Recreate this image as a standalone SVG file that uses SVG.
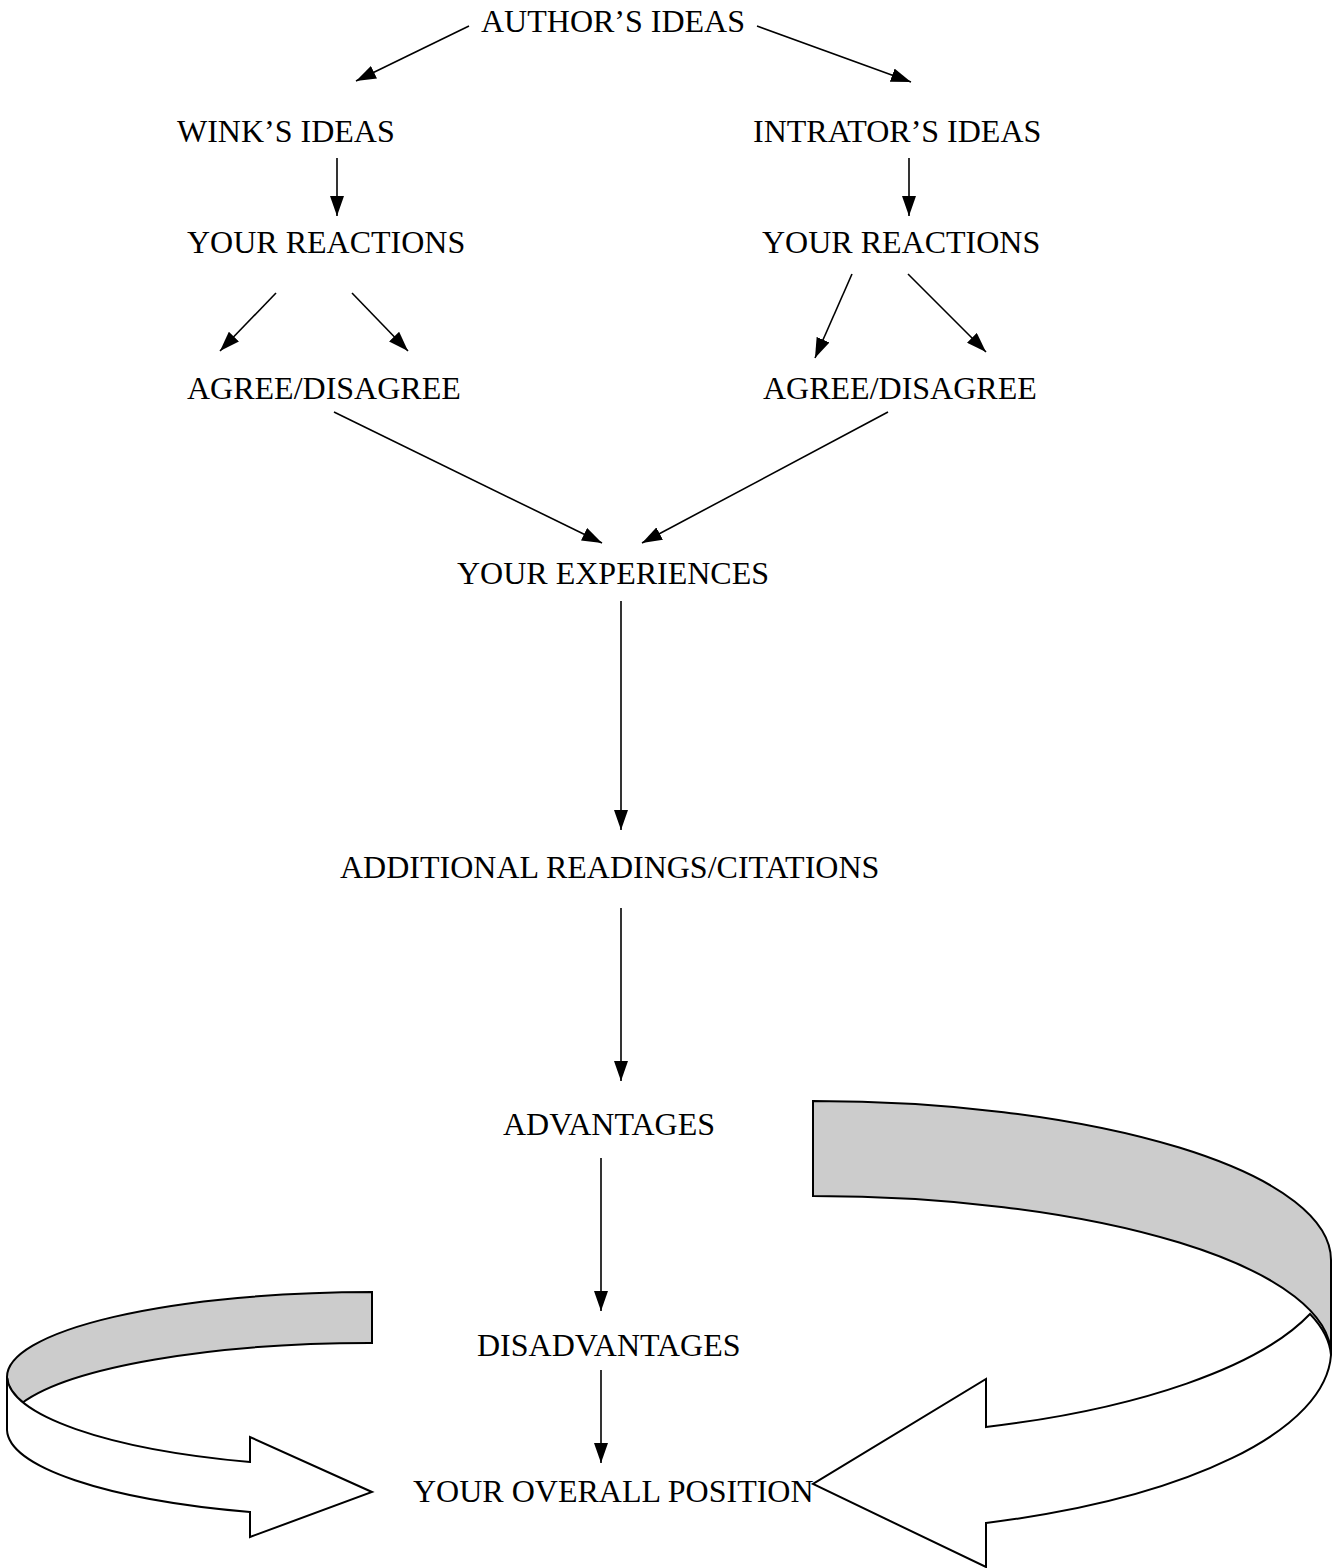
<svg xmlns="http://www.w3.org/2000/svg" width="1338" height="1568" viewBox="0 0 1338 1568">
<style>
  .lbl { font-family: "Liberation Serif", "Times New Roman", serif; font-size: 32px; fill: #000; }
  .con { stroke: #000; stroke-width: 1.6; fill: none; marker-end: url(#ah); }
  .band { fill: #cccccc; stroke: #000; stroke-width: 2; stroke-linejoin: miter; }
  .front { fill: #ffffff; stroke: #000; stroke-width: 2; stroke-linejoin: miter; }
</style>
<defs>
  <marker id="ah" markerUnits="userSpaceOnUse" markerWidth="20" markerHeight="14" refX="20" refY="7" orient="auto">
    <path d="M0,0 L20,7 L0,14 Z" fill="#000"/>
  </marker>
</defs>
<rect width="1338" height="1568" fill="#fff"/>

<g id="connectors">
  <line class="con" x1="469" y1="26" x2="356" y2="81"/>
  <line class="con" x1="757" y1="26" x2="911" y2="82"/>
  <line class="con" x1="337" y1="158" x2="337" y2="216"/>
  <line class="con" x1="909" y1="158" x2="909" y2="216"/>
  <line class="con" x1="276" y1="293" x2="220" y2="351"/>
  <line class="con" x1="352" y1="293" x2="408" y2="351"/>
  <line class="con" x1="852" y1="274" x2="815" y2="358"/>
  <line class="con" x1="908" y1="274" x2="986" y2="352"/>
  <line class="con" x1="334" y1="412" x2="602" y2="543"/>
  <line class="con" x1="888" y1="412" x2="642" y2="543"/>
  <line class="con" x1="621" y1="601" x2="621" y2="830"/>
  <line class="con" x1="621" y1="908" x2="621" y2="1081"/>
  <line class="con" x1="601" y1="1158" x2="601" y2="1311"/>
  <line class="con" x1="601" y1="1370" x2="601" y2="1463"/>
</g>

<g id="curved-arrow-right">
  <path class="band" d="M813 1101 A518 159 0 0 1 1331 1260 L1331 1355 A518 159 0 0 0 813 1196 Z"/>
  <path class="front" d="M1310 1314 A518 178 0 0 1 986 1427 L986 1379 L813 1484 L986 1567 L986 1523 A518 183 0 0 0 1331 1355 A518 159 0 0 0 1310 1314 Z"/>
</g>

<g id="curved-arrow-left">
  <path class="band" d="M372 1292 A365 85 0 0 0 7 1377 A365 92 0 0 0 22 1403 A365 86 0 0 1 372 1343 Z"/>
  <path class="front" d="M7 1377 A365 92 0 0 0 250 1462 L250 1437 L372 1492 L250 1537 L250 1512 A365 88 0 0 1 7 1430 Z"/>
</g>

<g id="node-authors-ideas"><text class="lbl" x="481" y="32">AUTHOR’S IDEAS</text></g>
<g id="node-winks-ideas"><text class="lbl" x="177" y="142">WINK’S IDEAS</text></g>
<g id="node-intrators-ideas"><text class="lbl" x="753" y="142">INTRATOR’S IDEAS</text></g>
<g id="node-reactions-left"><text class="lbl" x="187" y="253">YOUR REACTIONS</text></g>
<g id="node-reactions-right"><text class="lbl" x="762" y="253">YOUR REACTIONS</text></g>
<g id="node-agree-left"><text class="lbl" x="187" y="399">AGREE/DISAGREE</text></g>
<g id="node-agree-right"><text class="lbl" x="763" y="399">AGREE/DISAGREE</text></g>
<g id="node-experiences"><text class="lbl" x="457" y="584">YOUR EXPERIENCES</text></g>
<g id="node-additional"><text class="lbl" x="340" y="878">ADDITIONAL READINGS/CITATIONS</text></g>
<g id="node-advantages"><text class="lbl" x="503" y="1135">ADVANTAGES</text></g>
<g id="node-disadvantages"><text class="lbl" x="477" y="1356">DISADVANTAGES</text></g>
<g id="node-overall"><text class="lbl" x="413" y="1502">YOUR OVERALL POSITION</text></g>
</svg>
